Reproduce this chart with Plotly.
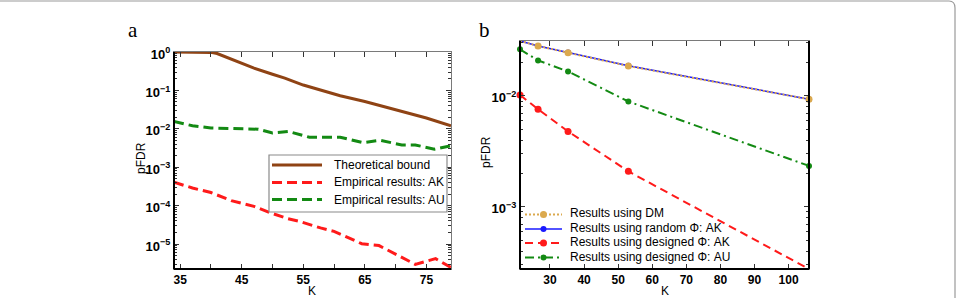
import plotly.graph_objects as go

W, H = 958, 298

# ---------------- data: panel a ----------------
k_bound = [34, 36, 38, 40, 41, 43, 45, 47, 50, 52, 55, 58, 61, 65, 70, 75, 79]
v_bound = [1.0, 1.0, 1.0, 0.977, 0.912, 0.676, 0.501, 0.380, 0.263, 0.209, 0.138,
           0.100, 0.0724, 0.0513, 0.0316, 0.0191, 0.0120]

k_ak = [34, 37, 40, 43.3, 47, 49.7, 52.5, 54.6, 57.8, 60, 64.5, 67.3, 73.2, 76.5, 79]
v_ak = [4.07e-4, 2.88e-4, 2.19e-4, 1.35e-4, 9.55e-5, 6.46e-5, 4.57e-5, 3.80e-5,
        2.63e-5, 2.14e-5, 1.02e-5, 9.12e-6, 2.95e-6, 4.17e-6, 2.45e-6]

k_au = [34, 37, 40, 44, 47.7, 50, 52.6, 56, 61, 64.7, 67.5, 71, 73.2, 76.3, 79]
v_au = [0.0155, 0.0120, 0.0105, 0.0100, 0.00977, 0.00776, 0.00851, 0.00603,
        0.00603, 0.00437, 0.00501, 0.00380, 0.00380, 0.00295, 0.00363]

names_a = ["Theoretical bound", "Empirical results: AK", "Empirical results: AU"]

xa_tickvals = [35, 45, 55, 65, 75]
xa_ticktext = ["35", "45", "55", "65", "75"]
xa_minorvals = [40, 50, 60, 70]
ya_tickvals = [1, 1e-1, 1e-2, 1e-3, 1e-4, 1e-5]
ya_ticktext = ["10<sup>0</sup>", "10<sup>−1</sup>", "10<sup>−2</sup>",
               "10<sup>−3</sup>", "10<sup>−4</sup>", "10<sup>−5</sup>"]

# ---------------- data: panel b ----------------
k_b = [21.2, 26.5, 35.3, 53, 106]
v_dm = [0.0313, 0.0282, 0.0245, 0.0186, 0.00933]
v_rand_ak = [0.0313, 0.0282, 0.0246, 0.0187, 0.00935]
v_des_ak = [0.0102, 0.00759, 0.00479, 0.00209, 0.000275]
v_des_au = [0.0263, 0.0209, 0.0166, 0.00891, 0.00234]

names_b = ["Results using DM", "Results using random Φ: AK",
           "Results using designed Φ: AK", "Results using designed Φ: AU"]

xb_tickvals = [30, 40, 50, 60, 70, 80, 90, 100]
xb_ticktext = ["30", "40", "50", "60", "70", "80", "90", "100"]
yb_tickvals = [1e-2, 1e-3]
yb_ticktext = ["10<sup>−2</sup>", "10<sup>−3</sup>"]

# ---------------- colours / styles ----------------
BROWN = "#8f4314"
RED = "#ff1a1a"
GREEN = "#138a13"
TAN = "#dba94e"
BLUE = "#1a1aff"

style_a = [dict(color=BROWN, width=3),
           dict(color=RED, width=3, dash="10px,5px"),
           dict(color=GREEN, width=3, dash="10px,5px")]
style_b = [dict(color=TAN, width=2, dash="2px,2px"),
           dict(color=BLUE, width=1.5),
           dict(color=RED, width=2, dash="8px,5px"),
           dict(color=GREEN, width=2, dash="9px,4px,2px,4px")]
marker_b = [dict(color=TAN, size=7), dict(color=BLUE, size=6),
            dict(color=RED, size=7), dict(color=GREEN, size=6)]

fig = go.Figure()

# panel a
for kx, vy, nm, st in zip([k_bound, k_ak, k_au], [v_bound, v_ak, v_au], names_a, style_a):
    fig.add_trace(go.Scatter(x=kx, y=vy, mode="lines", name=nm, line=st,
                             xaxis="x", yaxis="y", showlegend=False))

# panel b (random drawn first, DM dotted on top)
for idx in [1, 0, 2, 3]:
    vy = [v_dm, v_rand_ak, v_des_ak, v_des_au][idx]
    fig.add_trace(go.Scatter(x=k_b, y=vy, mode="lines+markers", name=names_b[idx],
                             line=style_b[idx], marker=marker_b[idx], cliponaxis=False,
                             xaxis="x2", yaxis="y2", showlegend=False))


def minor_log(lo_exp, hi_exp):
    vals = []
    for e in range(lo_exp, hi_exp):
        for m in range(2, 10):
            vals.append(m * 10.0 ** e)
    return vals


xtickfont = dict(family="Liberation Sans", size=12, color="black", weight="bold")
ytickfont = dict(family="Liberation Sans", size=13, color="black", weight="bold")
common = dict(showgrid=False, zeroline=False, showline=True, linecolor="#7a7a7a",
              linewidth=1, mirror="ticks", ticks="inside", ticklen=5,
              tickcolor="#333", tickwidth=1, automargin=False)


def px(x):
    return x / W


def py(y):
    return (H - y) / H


fig.update_layout(
    width=W, height=H, margin=dict(l=0, r=0, t=0, b=0, pad=0, autoexpand=False),
    paper_bgcolor="white", plot_bgcolor="white",
    font=dict(family="Liberation Sans", size=12, color="black"),
    showlegend=False,
    xaxis=dict(domain=[px(174), px(451)], range=[34, 79], anchor="y",
               tickmode="array", tickvals=xa_tickvals, ticktext=xa_ticktext,
               tickfont=xtickfont,
               minor=dict(ticks="inside", ticklen=5, tickcolor="#333", tickvals=xa_minorvals),
               **common),
    yaxis=dict(domain=[py(269), py(52)], type="log", range=[-5.65, 0], anchor="x",
               tickmode="array", tickvals=ya_tickvals, ticktext=ya_ticktext,
               tickfont=ytickfont, ticklabelshift=2,
               minor=dict(ticks="inside", ticklen=3, tickcolor="#333",
                          tickvals=minor_log(-6, 0)), **common),
    xaxis2=dict(domain=[px(520), px(809)], range=[21.2, 106], anchor="y2",
                tickmode="array", tickvals=xb_tickvals, ticktext=xb_ticktext,
                tickfont=xtickfont, **common),
    yaxis2=dict(domain=[py(269), py(41)], type="log", range=[-3.56, -1.505], anchor="x2",
                tickmode="array", tickvals=yb_tickvals, ticktext=yb_ticktext,
                tickfont=ytickfont, ticklabelshift=2,
                minor=dict(ticks="inside", ticklen=3, tickcolor="#333",
                           tickvals=minor_log(-4, -1)), **common),
)

shapes = []
# black axis lines (left/bottom of a; left/bottom/right of b)
for xr, yr, sides in [("x", "y", ["left", "bottom"]), ("x2", "y2", ["left", "bottom", "right"])]:
    for s in sides:
        if s == "left":
            x0, x1, y0, y1 = 0, 0, 0, 1
        elif s == "right":
            x0, x1, y0, y1 = 1, 1, 0, 1
        else:
            x0, x1, y0, y1 = 0, 1, 0, 0
        shapes.append(dict(type="line", xref=f"{xr} domain", yref=f"{yr} domain",
                           x0=x0, x1=x1, y0=y0, y1=y1,
                           line=dict(color="black", width=2)))
# page frame (top edge + rounded top-right corner + right edge)
shapes.append(dict(type="path", xref="paper", yref="paper",
                   path=f"M 0 {py(1)} L {px(949)} {py(1)} Q {px(955)} {py(1)} {px(955)} {py(8)} L {px(955)} 0",
                   line=dict(color="#9a9a9a", width=1.2)))

ann = []
# legend for panel a (boxed)
shapes.append(dict(type="rect", xref="paper", yref="paper",
                   x0=px(269), x1=px(447), y0=py(212), y1=py(155),
                   fillcolor="white", line=dict(color="#8a8a8a", width=1.2), layer="above"))
for i, (nm, st) in enumerate(zip(names_a, style_a)):
    yy = [165, 182.5, 199.5][i]
    shapes.append(dict(type="line", xref="paper", yref="paper",
                       x0=px(272), x1=px(322), y0=py(yy), y1=py(yy), line=st, layer="above"))
    ann.append(dict(text=nm, x=px(332), y=py(yy), xanchor="left", yanchor="middle",
                    font=dict(size=12)))

# legend for panel b (no box)
for i, (nm, st, mk) in enumerate(zip(names_b, style_b, marker_b)):
    yy = [214.5, 229, 243, 257.5][i]
    shapes.append(dict(type="line", xref="paper", yref="paper",
                       x0=px(525), x1=px(562), y0=py(yy), y1=py(yy), line=st, layer="above"))
    r = mk["size"] / 2
    shapes.append(dict(type="circle", xref="paper", yref="paper",
                       x0=px(543.5 - r), x1=px(543.5 + r), y0=py(yy + r), y1=py(yy - r),
                       fillcolor=mk["color"], line=dict(width=0), layer="above"))
    ann.append(dict(text=nm, x=px(568), y=py(yy - 1), xanchor="left", yanchor="middle",
                    font=dict(size=12)))

fig.update_layout(shapes=shapes)

ann += [
    dict(text="a", x=px(133), y=py(30), font=dict(family="Liberation Serif", size=21)),
    dict(text="b", x=px(485), y=py(30), font=dict(family="Liberation Serif", size=21)),
    dict(text="K", x=px(312), y=py(291), font=dict(size=12)),
    dict(text="K", x=px(665), y=py(291), font=dict(size=12)),
    dict(text="pFDR", x=px(141), y=py(158), textangle=-90, font=dict(size=12)),
    dict(text="pFDR", x=px(486), y=py(152), textangle=-90, font=dict(size=12)),
]
for a in ann:
    a.setdefault("xanchor", "center")
    a.setdefault("yanchor", "middle")
    a.update(xref="paper", yref="paper", showarrow=False)
fig.update_layout(annotations=ann)

fig.write_html("out.html")
